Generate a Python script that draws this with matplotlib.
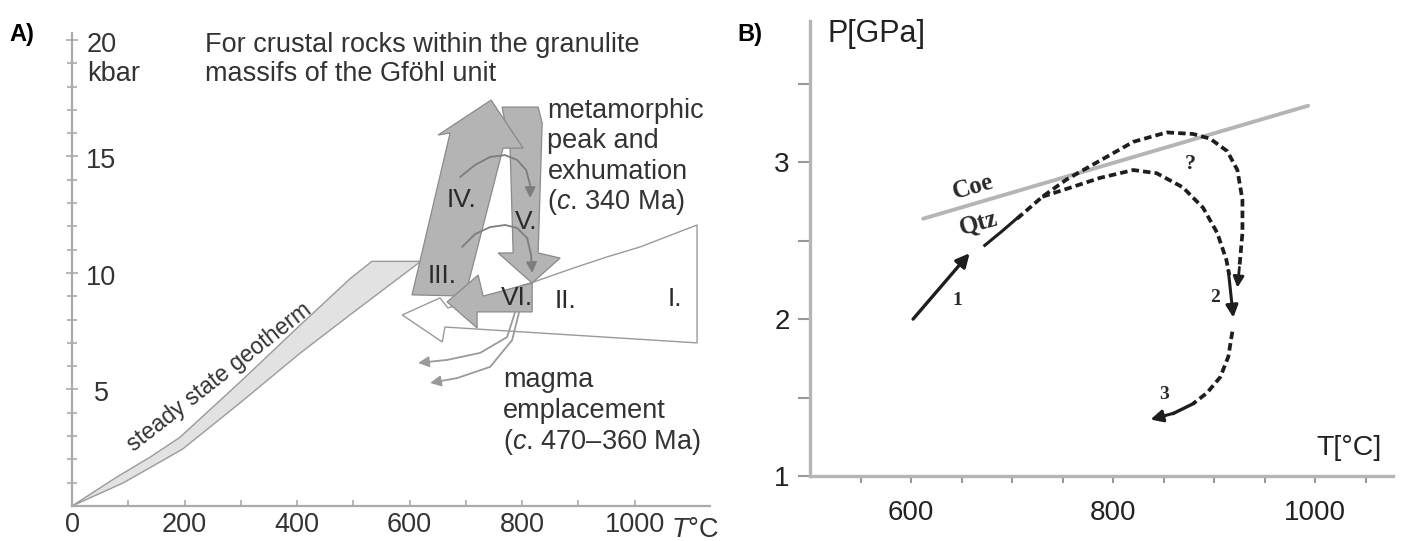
import numpy as np
import matplotlib
matplotlib.use("Agg")
import matplotlib.pyplot as plt
from matplotlib.patches import Polygon

plt.rcParams['font.family'] = ['Liberation Sans', 'DejaVu Sans']
plt.rcParams['mathtext.fontset'] = 'custom'
plt.rcParams['mathtext.rm'] = 'Liberation Sans'
plt.rcParams['mathtext.it'] = 'Liberation Sans:italic'

# ---------------- Panel A data ----------------
a_xticks = [0, 200, 400, 600, 800, 1000]
a_xticklabels = ['0', '200', '400', '600', '800', '1000']
a_xminor = [100, 300, 500, 700, 900]
a_yticks = [5, 10, 15, 20]
a_yticklabels = ['5', '10', '15', '20']
a_yminor = list(range(1, 21))

geo_upper_T = [0, 80, 139, 192, 300, 405, 494, 533, 620]
geo_upper_P = [0, 1.25, 2.1, 2.95, 5.35, 7.75, 9.75, 10.5, 10.5]
geo_lower_T = [620, 494, 405, 300, 197, 169, 91, 0]
geo_lower_P = [10.5, 8.2, 6.55, 4.45, 2.45, 2.06, 0.99, 0]

wedge_T = [1111, 1111, 663, 658, 587, 654, 668, 820, 891, 951, 1010, 1111]
wedge_P = [12.06, 7.0, 7.68, 7.04, 8.2, 8.93, 8.5, 9.61, 10.21, 10.69, 11.12, 12.06]

iv_T = [604.4, 698.7, 766.2, 801.8, 744.9, 650.7, 672.0]
iv_P = [9.06, 9.01, 15.36, 15.36, 17.42, 15.92, 16.01]

v_T = [764.5, 828.5, 835.7, 828.5, 867.6, 817.8, 757.4, 784.1, 778.8]
v_P = [17.12, 17.12, 16.44, 10.86, 10.64, 9.57, 10.86, 10.86, 15.28]

vi_T = [817.9, 817.9, 720.0, 720.0, 666.8, 721.9, 730.8]
vi_P = [9.57, 8.33, 8.33, 7.64, 8.76, 9.91, 9.01]

c1_T = [689.9, 716.5, 743.2, 769.9, 791.2, 807.2, 814.3, 814.3]
c1_P = [14.12, 14.64, 14.98, 15.06, 14.85, 14.42, 13.78, 13.22]
c2_T = [693.4, 716.5, 743.2, 769.9, 791.2, 809.0, 816.0, 817.9]
c2_P = [11.12, 11.67, 11.97, 12.06, 11.93, 11.5, 10.77, 10.0]

m1_T = [787.7, 773.4, 725.4, 666.8, 615.2]
m1_P = [8.33, 7.25, 6.57, 6.27, 6.14]
m2_T = [794.8, 782.3, 743.2, 684.5, 636.5]
m2_P = [8.33, 7.12, 5.97, 5.49, 5.28]

stage_labels = ['I.', 'II.', 'III.', 'IV.', 'V.', 'VI.']
stage_T = [1072, 877, 658, 693, 807, 791]
stage_P = [8.88, 8.8, 9.85, 13.13, 12.19, 8.93]

# ---------------- Panel B data ----------------
b_xticks = [550, 600, 650, 700, 750, 800, 850, 900, 950, 1000, 1050]
b_xticklabels = ['', '600', '', '', '', '800', '', '', '', '1000', '']
b_yticks = [1.0, 1.5, 2.0, 2.5, 3.0, 3.5]
b_yticklabels = ['1', '', '2', '', '3', '']

coe_T = [612, 993]
coe_P = [2.64, 3.36]
arrow1_T = [602, 658]
arrow1_P = [2.0, 2.42]
start_T = [673, 690, 708]
start_P = [2.47, 2.56, 2.66]
outer_T = [705, 730, 754, 787, 820, 853, 879, 896, 913, 923, 928, 928, 925]
outer_P = [2.64, 2.78, 2.89, 3.01, 3.13, 3.19, 3.18, 3.15, 3.07, 2.95, 2.76, 2.55, 2.33]
outer_head = (923, 2.2)
inner_T = [730, 754, 787, 820, 843, 869, 889, 903, 912, 915]
inner_P = [2.78, 2.83, 2.90, 2.95, 2.93, 2.84, 2.71, 2.55, 2.38, 2.28]
arrow2_T = [914, 919]
arrow2_P = [2.31, 2.01]
lower_T = [918, 914, 906, 893, 879]
lower_P = [1.92, 1.76, 1.63, 1.53, 1.46]
arrow3_T = [879, 860, 837]
arrow3_P = [1.46, 1.40, 1.36]

# ---------------- Figure ----------------
fig = plt.figure(figsize=(14.03, 5.41), dpi=100)
txt = '#333333'

# ======== Panel A ========
axA = fig.add_axes([0.05132, 0.06470, 0.45474, 0.87431])
axA.set_xlim(0, 1134)
axA.set_ylim(0, 20.3)
for s in ['top', 'right']:
    axA.spines[s].set_visible(False)
for s in ['left', 'bottom']:
    axA.spines[s].set_color('#aaaaaa')
    axA.spines[s].set_linewidth(1.6)

axA.set_xticks(a_xticks)
axA.set_xticklabels(a_xticklabels)
axA.set_xticks(a_xminor, minor=True)
axA.tick_params(axis='x', which='both', direction='in', length=4, width=1.2,
                color='#aaaaaa', labelsize=19.5, labelcolor=txt, pad=4)
axA.set_yticks(a_yticks)
axA.set_yticklabels([])
axA.set_yticks(a_yminor, minor=True)
axA.tick_params(axis='y', which='major', direction='inout', length=9, width=1.2,
                color='#aaaaaa')
axA.tick_params(axis='y', which='minor', direction='inout', length=7, width=1.2,
                color='#aaaaaa')
for v, lab in zip(a_yticks, a_yticklabels):
    axA.text(52, v - 0.5, lab, ha='center', va='baseline', fontsize=19.5, color=txt)
axA.text(27, 18.24, 'kbar', ha='left', va='baseline', fontsize=19.5, color=txt)
axA.text(1108, -1.33, r'$T$°C', ha='center', va='baseline', fontsize=19.5,
         color=txt, clip_on=False)

# geotherm band
geo = Polygon(list(zip(geo_upper_T + geo_lower_T, geo_upper_P + geo_lower_P)),
              closed=True, facecolor='#e2e2e2', edgecolor='#9a9a9a', lw=1.0, zorder=2)
axA.add_patch(geo)
axA.text(262, 5.55, 'steady state geotherm', rotation=38, ha='center', va='center',
         fontsize=16.5, color=txt, rotation_mode='anchor', zorder=5)

# white wedge + arrow
axA.add_patch(Polygon(list(zip(wedge_T, wedge_P)), closed=True, facecolor='white',
                      edgecolor='#9a9a9a', lw=1.0, zorder=3))
# grey arrows
grey_fc = '#b4b4b4'
grey_ec = '#8a8a8a'
axA.add_patch(Polygon(list(zip(v_T, v_P)), closed=True, facecolor=grey_fc,
                      edgecolor=grey_ec, lw=0.9, zorder=4))
axA.add_patch(Polygon(list(zip(iv_T, iv_P)), closed=True, facecolor=grey_fc,
                      edgecolor=grey_ec, lw=0.9, zorder=5))
axA.add_patch(Polygon(list(zip(vi_T, vi_P)), closed=True, facecolor=grey_fc,
                      edgecolor=grey_ec, lw=0.9, zorder=6))

# thin curved arrows
for T, P, col, z in [(c1_T, c1_P, '#7d7d7d', 7), (c2_T, c2_P, '#7d7d7d', 7),
                     (m1_T, m1_P, '#9a9a9a', 7), (m2_T, m2_P, '#9a9a9a', 7)]:
    axA.plot(T[:-1], P[:-1], color=col, lw=1.3, zorder=z, solid_capstyle='round')
    axA.annotate('', xy=(T[-1], P[-1]), xytext=(T[-2], P[-2]),
                 arrowprops=dict(arrowstyle='-|>', color=col, lw=1.3,
                                 mutation_scale=16, shrinkA=0, shrinkB=0), zorder=z)

for lab, T, P in zip(stage_labels, stage_T, stage_P):
    axA.text(T, P, lab, ha='center', va='center', fontsize=19, color='#2a2a2a', zorder=9)

axA.text(236, 19.49, 'For crustal rocks within the granulite', ha='left', va='baseline',
         fontsize=19.5, color=txt, clip_on=False)
axA.text(236, 18.24, 'massifs of the Gföhl unit', ha='left', va='baseline',
         fontsize=19.5, color=txt, clip_on=False)
for i, line in enumerate(['metamorphic', 'peak and', 'exhumation', r'($\it{c}$. 340 Ma)']):
    axA.text(845, 16.65 - i * 1.30, line, ha='left', va='baseline', fontsize=19.5,
             color=txt, clip_on=False)
for i, line in enumerate(['magma', 'emplacement', r'($\it{c}$. 470–360 Ma)']):
    axA.text(766, 5.1 - i * 1.33, line, ha='left', va='baseline', fontsize=19.5,
             color=txt, clip_on=False)

# ======== Panel B ========
axB = fig.add_axes([0.57733, 0.12015, 0.41554, 0.84104])
axB.set_xlim(500, 1077)
axB.set_ylim(1.0, 3.9)
for s in ['top', 'right']:
    axB.spines[s].set_visible(False)
for s in ['left', 'bottom']:
    axB.spines[s].set_color('#b5b5b5')
    axB.spines[s].set_linewidth(2.4)
axB.set_xticks(b_xticks)
axB.set_xticklabels(b_xticklabels)
axB.set_yticks(b_yticks)
axB.set_yticklabels(b_yticklabels)
axB.tick_params(axis='x', direction='out', length=5, width=1.5, color='#999999',
                labelsize=20, labelcolor='#222222', pad=12)
axB.tick_params(axis='y', direction='out', length=8.5, width=1.5, color='#999999',
                labelsize=20, labelcolor='#222222', pad=6)

axB.text(517, 3.82, 'P[GPa]', ha='left', va='center', fontsize=22, color='#222222')
axB.text(1066, 1.18, 'T[°C]', ha='right', va='center', fontsize=20.5, color='#222222')

axB.plot(coe_T, coe_P, color='#b5b5b5', lw=2.8, solid_capstyle='round', zorder=2)

ink = '#1e1e1e'
dash = (0, (2.0, 1.1))
axB.annotate('', xy=(arrow1_T[1], arrow1_P[1]), xytext=(arrow1_T[0], arrow1_P[0]),
             arrowprops=dict(arrowstyle='-|>', color=ink, lw=2.4, mutation_scale=20,
                             shrinkA=0, shrinkB=0), zorder=4)
axB.plot(start_T, start_P, color=ink, lw=2.2, zorder=3)
axB.plot(outer_T, outer_P, color=ink, lw=2.7, ls=dash, zorder=3)
axB.annotate('', xy=outer_head, xytext=(outer_T[-1], outer_P[-1]),
             arrowprops=dict(arrowstyle='-|>', color=ink, lw=2.0, mutation_scale=16,
                             shrinkA=0, shrinkB=0), zorder=4)
axB.plot(inner_T, inner_P, color=ink, lw=2.7, ls=dash, zorder=3)
axB.annotate('', xy=(arrow2_T[1], arrow2_P[1]), xytext=(arrow2_T[0], arrow2_P[0]),
             arrowprops=dict(arrowstyle='-|>', color=ink, lw=2.2, mutation_scale=18,
                             shrinkA=0, shrinkB=0), zorder=4)
axB.plot(lower_T, lower_P, color=ink, lw=2.7, ls=dash, zorder=3)
axB.plot(arrow3_T[:-1], arrow3_P[:-1], color=ink, lw=2.4, zorder=3)
axB.annotate('', xy=(arrow3_T[-1], arrow3_P[-1]), xytext=(arrow3_T[-2], arrow3_P[-2]),
             arrowprops=dict(arrowstyle='-|>', color=ink, lw=2.2, mutation_scale=18,
                             shrinkA=0, shrinkB=0), zorder=4)

serif = ['Liberation Serif', 'DejaVu Serif']
axB.text(661, 2.84, 'Coe', family=serif, weight='bold', fontsize=18, color='#2a2a2a',
         rotation=16, ha='center', va='center')
axB.text(667, 2.61, 'Qtz', family=serif, weight='bold', fontsize=18, color='#2a2a2a',
         rotation=16, ha='center', va='center')
axB.text(876, 2.99, '?', family=serif, weight='bold', fontsize=16, color='#2a2a2a',
         ha='center', va='center')
axB.text(646, 2.12, '1', family=serif, weight='bold', fontsize=14, color='#2a2a2a',
         ha='center', va='center')
axB.text(901, 2.14, '2', family=serif, weight='bold', fontsize=14, color='#2a2a2a',
         ha='center', va='center')
axB.text(850, 1.52, '3', family=serif, weight='bold', fontsize=14, color='#2a2a2a',
         ha='center', va='center')

# panel letters
fig.text(22 / 1403, 1 - 34 / 541, 'A)', ha='center', va='center', fontsize=17,
         weight='bold', color='black')
fig.text(750 / 1403, 1 - 34 / 541, 'B)', ha='center', va='center', fontsize=17,
         weight='bold', color='black')

fig.savefig('out.png', dpi=100)
